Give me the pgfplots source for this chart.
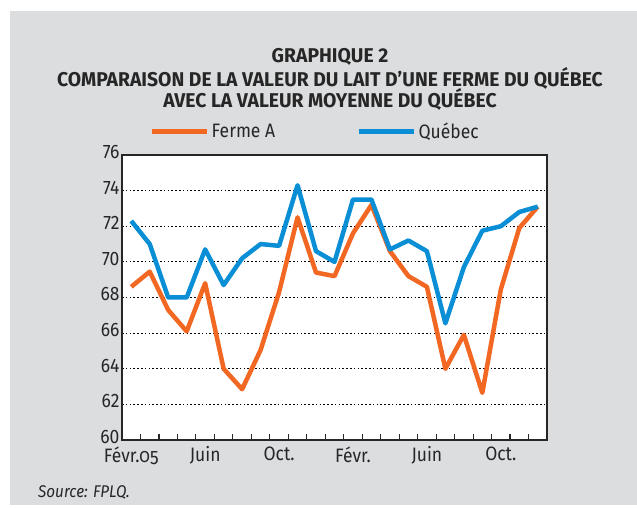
\documentclass[border=0pt]{standalone}
\usepackage{pgfplots}
\pgfplotsset{compat=1.18}
\usepackage{fontspec}
\setmainfont{Fira Sans}[FakeStretch=0.9]
\newfontfamily\titlefont{Fira Sans}[FakeStretch=0.97]
\definecolor{bg}{HTML}{DCDDDF}
\definecolor{ora}{HTML}{F26722}
\definecolor{blu}{HTML}{0A8FD6}
\begin{document}
\begin{tikzpicture}
\path[use as bounding box] (0bp,0bp) rectangle (637bp,508bp);
\fill[white] (0bp,0bp) rectangle (637bp,508bp);
\fill[bg] (10bp,3bp) rectangle (637bp,497bp);
\node[font=\titlefont\fontsize{20}{24}\selectfont\bfseries, anchor=base, text=black!85] at (330bp,445bp) {GRAPHIQUE 2};
\node[font=\titlefont\fontsize{20}{24}\selectfont\bfseries, anchor=base, text=black!85] at (330bp,421bp) {COMPARAISON DE LA VALEUR DU LAIT D’UNE FERME DU QUÉBEC};
\node[font=\titlefont\fontsize{20}{24}\selectfont\bfseries, anchor=base, text=black!85] at (330bp,400bp) {AVEC LA VALEUR MOYENNE DU QUÉBEC};
\node[font=\fontsize{17}{19}\selectfont\itshape, anchor=base west, inner sep=0pt, text=black!85] at (38bp,11bp) {Source: FPLQ.};
\begin{axis}[
  at={(122bp,68bp)}, anchor=south west,
  scale only axis, width=425bp, height=285bp,
  xmin=-0.5, xmax=22.5, ymin=60, ymax=76,
  axis background/.style={fill=white},
  axis line style={line width=1.3bp, black!85},
  ytick={60,62,...,76},
  ytick style={draw=none},
  ymajorgrids,
  major grid style={black, line width=1.1bp, dash pattern=on 1.6bp off 2.2bp},
  xtick={0,4,8,12,16,20},
  xticklabels={Févr.{\addfontfeatures{Numbers=OldStyle}05},Juin,Oct.,Févr.,Juin,Oct.},
  major x tick style={draw=none},
  minor xtick={-0.5,0.5,...,22.5},
  minor x tick style={black!85, line width=1.1bp},
  minor tick length=6bp,
  tick align=inside,
  xtick pos=bottom,
  ytick pos=left,
  tick label style={font=\fontsize{19.5}{22}\selectfont, text=black!85},
  /pgf/number format/assume math mode=true,
  yticklabel style={xshift=1bp, yshift=3bp},
  xticklabel style={yshift=-3bp},
  legend style={draw=none, fill=none, inner sep=0pt, at={(0.066,1)}, anchor=south west, yshift=13bp,
    font=\fontsize{19.5}{22}\selectfont, text=black!85, legend columns=2,
    /tikz/every even column/.append style={column sep=80bp}},
  legend image code/.code={\draw[#1, line width=4.5bp] (0bp,0bp) -- (55bp,0bp);},
]
\addplot[ora, line width=4.5bp, line join=round, mark=none] coordinates {
(0,68.6)(1,69.45)(2,67.3)(3,66.1)(4,68.8)(5,64.0)(6,62.85)(7,65.05)(8,68.3)(9,72.5)(10,69.4)(11,69.2)
(12,71.6)(13,73.2)(14,70.6)(15,69.2)(16,68.6)(17,64.0)(18,65.9)(19,62.65)(20,68.45)(21,71.9)(22,73.1)};
\addlegendentry{Ferme A}
\addplot[blu, line width=4.5bp, line join=round, mark=none] coordinates {
(0,72.3)(1,71.0)(2,68.0)(3,68.0)(4,70.7)(5,68.7)(6,70.2)(7,71.0)(8,70.9)(9,74.3)(10,70.6)(11,70.0)
(12,73.5)(13,73.5)(14,70.7)(15,71.2)(16,70.6)(17,66.55)(18,69.7)(19,71.75)(20,72.0)(21,72.8)(22,73.1)};
\addlegendentry{Québec}
\end{axis}
\end{tikzpicture}
\end{document}
